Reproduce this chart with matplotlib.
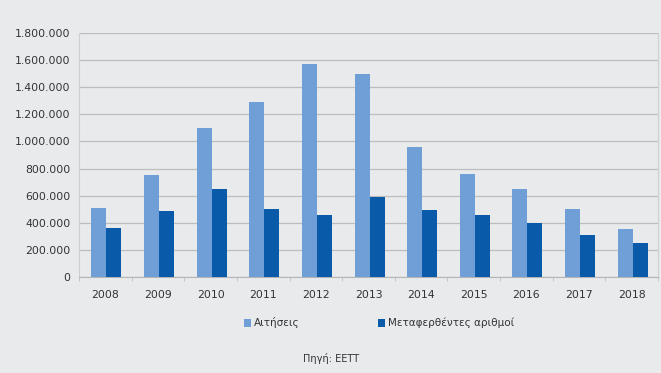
import matplotlib.pyplot as plt
import numpy as np
from matplotlib.ticker import FuncFormatter

years = ['2008', '2009', '2010', '2011', '2012', '2013', '2014', '2015', '2016', '2017', '2018']
aitiseis = [510000, 750000, 1100000, 1292000, 1568000, 1494000, 957000, 760000, 647000, 499000, 351000]
metaferthentes = [360000, 485000, 650000, 505000, 455000, 590000, 493000, 454000, 397000, 311000, 252000]

bg = '#e9eaec'
light = '#6f9fd6'
dark = '#0a5aaa'

fig = plt.figure(figsize=(6.61, 3.73), dpi=100, facecolor=bg)
ax = fig.add_axes([79 / 661, 1 - 277 / 373, (658 - 79) / 661, (277 - 33) / 373])
ax.set_facecolor(bg)

x = np.arange(len(years))
w = 0.285
ax.bar(x - w / 2 + 0.02, aitiseis, w, color=light, label='Αιτήσεις', zorder=3)
ax.bar(x + w / 2 + 0.02, metaferthentes, w, color=dark, label='Μεταφερθέντες αριθμοί', zorder=3)

ax.set_xlim(-0.5, len(years) - 0.5)
ax.set_ylim(0, 1800000)
ax.set_yticks(np.arange(0, 1800001, 200000))
ax.yaxis.set_major_formatter(FuncFormatter(lambda v, p: f'{int(v):,}'.replace(',', '.')))
ax.set_xticks(x)
ax.set_xticklabels(years)
ax.set_xticks(np.arange(-0.5, len(years), 1), minor=True)
ax.tick_params(axis='x', which='major', length=0, pad=9, labelsize=7.8, colors='#333333')
ax.tick_params(axis='x', which='minor', length=3, color='#c0c0c0', direction='out')
ax.tick_params(axis='y', length=0, pad=6, labelsize=7.8, colors='#333333')

ax.grid(axis='y', color='#bdbdbd', linewidth=0.9, zorder=0)
ax.spines['top'].set_visible(False)
ax.spines['left'].set_color('#cfcfcf')
ax.spines['right'].set_color('#d0d0d0')
ax.spines['bottom'].set_color('#b5b5b5')

fig.legend(loc='center', bbox_to_anchor=(379 / 661, 1 - 323 / 373), ncol=2, frameon=False,
           fontsize=7.5, handlelength=0.7, handleheight=0.7, handletextpad=0.3,
           columnspacing=7.5, labelcolor='#333333')
fig.text(331 / 661, 1 - 358 / 373, 'Πηγή: ΕΕΤΤ', ha='center', va='center', fontsize=7, color='#333333')

fig.savefig('out.png', dpi=100, facecolor=bg)
